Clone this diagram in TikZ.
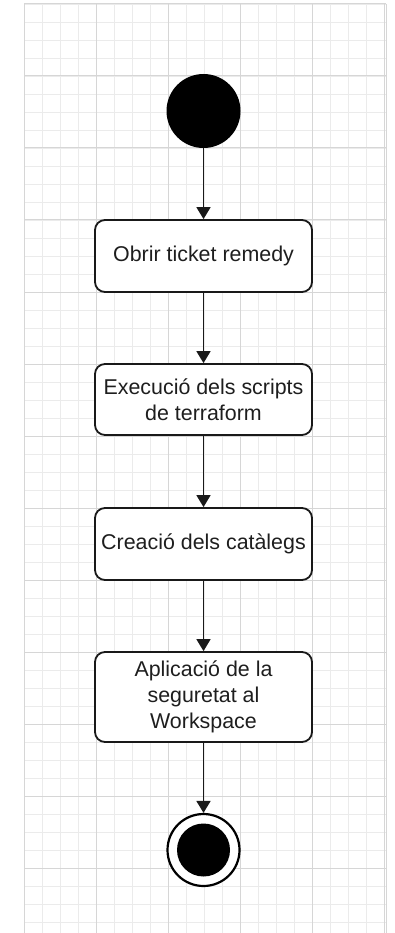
\documentclass[tikz,border=0pt]{standalone}
\usepackage{fontspec}
\setmainfont{Liberation Sans}
\usetikzlibrary{arrows.meta}
\definecolor{minorg}{HTML}{EBEBEB}
\definecolor{majorg}{HTML}{D6D6D6}
\definecolor{txt}{HTML}{1E1E1E}
\tikzset{
  stepbox/.style={draw=black!90, line width=1.8pt, rounded corners=10pt, fill=white,
    minimum width=217pt, align=center, text=txt, inner sep=0pt,
    font=\fontsize{21.4}{25.7}\selectfont},
  arr/.style={draw=black!90, line width=1.7pt, -{Triangle[length=12pt,width=14pt]}},
  minorline/.style={draw=minorg, line width=0.8pt},
  majorline/.style={draw=majorg, line width=1pt}
}
\begin{document}
\begin{tikzpicture}[x=1pt,y=-1pt]
\useasboundingbox[fill=white] (0,0) rectangle (395,933);
% grid
\foreach \i in {0,...,20} {
  \draw[minorline] ({24+18*\i},4) -- ({24+18*\i},933);
}
\foreach \i in {0,...,51} {
  \draw[minorline] (24,{4+18*\i}) -- (386,{4+18*\i});
}
\foreach \i in {0,...,5} {
  \draw[majorline] ({24+72*\i},4) -- ({24+72*\i},933);
}
\draw[majorline] (386,4) -- (386,933);
\foreach \i in {0,...,12} {
  \draw[majorline] (24,{4+72*\i}) -- (386,{4+72*\i});
}
% nodes
\node[circle, fill=black, minimum size=74pt, inner sep=0pt] (start) at (203.5,111) {};
\node[stepbox, minimum height=72pt] (b1) at (203.5,256) {Obrir ticket remedy};
\node[stepbox, minimum height=71pt] (b2) at (203.5,399.5) {Execució dels scripts\\de terraform};
\node[stepbox, minimum height=72pt] (b3) at (203.5,544) {Creació dels catàlegs};
\node[stepbox, minimum height=90pt] (b4) at (203.5,697) {Aplicació de la\\seguretat al\\Workspace};
\node[circle, draw=black, line width=2.2pt, fill=white, minimum size=72pt, inner sep=0pt] (end) at (203.5,850) {};
\node[circle, fill=black, minimum size=53pt, inner sep=0pt] (endin) at (203.5,850) {};
% connectors
\draw[arr] (start) -- (b1);
\draw[arr] (b1) -- (b2);
\draw[arr] (b2) -- (b3);
\draw[arr] (b3) -- (b4);
\draw[arr] (b4) -- (end);
\end{tikzpicture}
\end{document}
